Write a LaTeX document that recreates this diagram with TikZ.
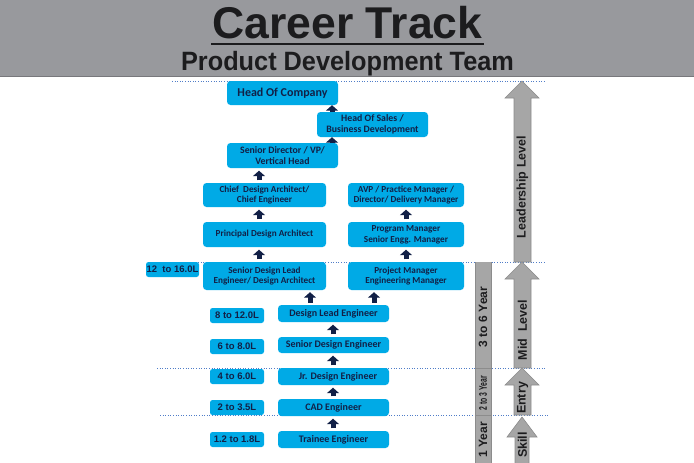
\documentclass[tikz,border=0pt]{standalone}
\usepackage{fontspec}
\usepackage{graphicx}
\setmainfont{Liberation Sans}
\newfontfamily\boxfont{Carlito}
\usetikzlibrary{arrows.meta,calc}
\definecolor{hdr}{RGB}{152,153,157}
\definecolor{hdrline}{RGB}{120,120,124}
\definecolor{boxblue}{RGB}{0,170,230}
\definecolor{navy}{RGB}{18,32,70}
\definecolor{dotblue}{RGB}{80,125,200}
\definecolor{arrgray}{RGB}{166,166,166}
\definecolor{arredge}{RGB}{140,140,140}
\definecolor{ink}{RGB}{28,28,30}
\begin{document}
\begin{tikzpicture}[x=1pt,y=-1pt,
 box/.style={fill=boxblue, rounded corners=3.5pt, text=navy, font=\boxfont\bfseries\fontsize{9.2}{10.7}\selectfont, align=center, inner sep=0pt},
 bigbox/.style={box, font=\boxfont\bfseries\fontsize{9.8}{11.5}\selectfont},
 engbox/.style={box, minimum width=111pt, minimum height=17pt, font=\boxfont\bfseries\fontsize{10}{11}\selectfont},
 sal/.style={fill=boxblue, rounded corners=2.5pt, text=navy, font=\bfseries\fontsize{9.5}{11}\selectfont, inner sep=0pt, minimum width=54pt, minimum height=15pt},
 uparr/.style={draw=navy, line width=5pt, -{Triangle[width=12pt,length=5.5pt]}, shorten <=2.5pt, shorten >=2.5pt},
 dotline/.style={dotblue, line width=0.8pt, dash pattern=on 1pt off 1.6pt},
 garrow/.style={fill=arrgray, draw=arredge, line width=0.6pt},
 vlab/.style={rotate=90, font=\bfseries\fontsize{12.5}{14}\selectfont, text=ink, inner sep=0pt},
 ylab/.style={rotate=90, font=\bfseries\fontsize{12}{14}\selectfont, text=ink, inner sep=0pt}
]
\useasboundingbox (0,0) rectangle (694,463);
% header
\fill[hdr] (0,0) rectangle (694,76);
\draw[hdrline, line width=1.5pt] (0,76.5) -- (694,76.5);
\node[anchor=base, inner sep=0pt, text=ink, font=\bfseries\fontsize{44.5}{50}\selectfont] (title) at (347.5,38) {Career Track};
\draw[ink, line width=2pt] (211,43.5) -- (484,43.5);
\node[anchor=base, inner sep=0pt, text=ink, font=\bfseries\fontsize{26.5}{30}\selectfont] (subtitle) at (347.5,70) {\scalebox{0.955}[1]{Product Development Team}};
% dotted level lines
\draw[dotline] (172,81) -- (545,81);
\draw[dotline] (172,262) -- (545,262);
\draw[dotline] (157,368.5) -- (545,368.5);
\draw[dotline] (160,415.5) -- (548,415.5);
% leadership boxes
\node[box, minimum width=111pt, minimum height=24pt, font=\boxfont\bfseries\fontsize{12}{14}\selectfont] (hoc) at (282.5,93) {Head Of Company};
\node[bigbox, minimum width=111pt, minimum height=25pt] (hos) at (372.5,124.5) {Head Of Sales /\\Business Development};
\node[bigbox, minimum width=111pt, minimum height=25pt] (sd) at (282.5,155.5) {Senior Director / VP/\\Vertical Head};
\node[box, minimum width=123pt, minimum height=24pt] (cda) at (264.5,195) {Chief\ \ Design Architect/\\Chief Engineer};
\node[box, minimum width=123pt, minimum height=25pt] (pda) at (264.5,234.5) {Principal Design Architect};
\node[box, minimum width=123pt, minimum height=28pt] (sdl) at (264.5,276) {Senior Design Lead\\Engineer/ Design Architect};
\node[box, minimum width=116pt, minimum height=24pt] (avp) at (406,195) {AVP / Practice Manager /\\Director/ Delivery Manager};
\node[box, minimum width=116pt, minimum height=25pt] (pm) at (406,234.5) {Program Manager\\Senior Engg. Manager};
\node[box, minimum width=116pt, minimum height=28pt] (prm) at (406,276) {Project Manager\\Engineering Manager};
% engineering boxes
\node[engbox] (dle) at (333.5,313.5) {Design Lead Engineer};
\node[engbox, minimum height=16pt] (sde) at (333.5,345) {Senior Design Engineer};
\node[engbox] (jde) at (333.5,376.5) {\hspace{9pt}Jr. Design Engineer};
\node[engbox] (cad) at (333.5,407.5) {CAD Engineer};
\node[engbox] (te) at (333.5,439.5) {Trainee Engineer};
% salary boxes
\node[sal, minimum width=53pt] (s0) at (172.5,269.5) {12\ \ to 16.0L};
\node[sal] (s1) at (237,315.5) {8 to 12.0L};
\node[sal] (s2) at (237,346.5) {6 to 8.0L};
\node[sal] (s3) at (237,376.5) {4 to 6.0L};
\node[sal] (s4) at (237,407.5) {2 to 3.5L};
\node[sal] (s5) at (237,439.5) {1.2 to 1.8L};
% arrow columns
\coordinate (xa) at (332,0);
\coordinate (xb) at (259,0);
\coordinate (xc) at (406,0);
\coordinate (xd) at (310,0);
\coordinate (xe) at (374,0);
\coordinate (xf) at (333,0);
% connectors
\draw[uparr, shorten <=0pt, shorten >=0pt] (hos.north -| xa) -- (hoc.south -| xa);
\draw[uparr, shorten <=0pt, shorten >=0pt] (sd.north -| xa) -- (hos.south -| xa);
\draw[uparr] (cda.north -| xb) -- (sd.south -| xb);
\draw[uparr] (pda.north -| xb) -- (cda.south -| xb);
\draw[uparr] (sdl.north -| xb) -- (pda.south -| xb);
\draw[uparr] (pm.north -| xc) -- (avp.south -| xc);
\draw[uparr] (prm.north -| xc) -- (pm.south -| xc);
\draw[uparr, shorten <=2pt, shorten >=2pt] (dle.north -| xd) -- (sdl.south -| xd);
\draw[uparr, shorten <=2pt, shorten >=2pt] (dle.north -| xe) -- (prm.south -| xe);
\draw[uparr] (sde.north -| xf) -- (dle.south -| xf);
\draw[uparr] (jde.north -| xf) -- (sde.south -| xf);
\draw[uparr] (cad.north -| xf) -- (jde.south -| xf);
\draw[uparr] (te.north -| xf) -- (cad.south -| xf);
% year bar
\fill[arrgray] (475,262) rectangle (491,463);
\draw[arredge, line width=0.6pt] (475,262) -- (475,463) (491,262) -- (491,463);
\draw[arredge, line width=0.8pt] (475,368.5) -- (491,368.5) (475,415.5) -- (491,415.5);
\node[ylab] (y1) at (483,317) {3 to 6 Year};
\node[ylab, font=\bfseries\fontsize{11}{13}\selectfont] (y2) at (483,393) {\scalebox{0.62}[1]{2 to 3 Year}};
\node[ylab] (y3) at (483,440) {1 Year};
% level arrows
\draw[garrow] (522,81) -- (539,98) -- (531,98) -- (531,262) -- (514,262) -- (514,98) -- (505,98) -- cycle;
\draw[garrow] (522,262) -- (539,279) -- (531,279) -- (531,368) -- (514,368) -- (514,279) -- (505,279) -- cycle;
\draw[garrow] (522,368) -- (539,385) -- (531,385) -- (531,415) -- (514,415) -- (514,385) -- (505,385) -- cycle;
\draw[garrow] (522,417) -- (537,437) -- (529,437) -- (529,464) -- (515,464) -- (515,437) -- (507,437) -- cycle;
\node[vlab] (l1) at (522.5,187) {Leadership Level};
\node[vlab] (l2) at (522.5,330) {Mid\ \ Level};
\node[vlab] (l3) at (522.5,398) {Entry};
\node[vlab] (l4) at (522.5,445) {Skill};
\end{tikzpicture}
\end{document}
